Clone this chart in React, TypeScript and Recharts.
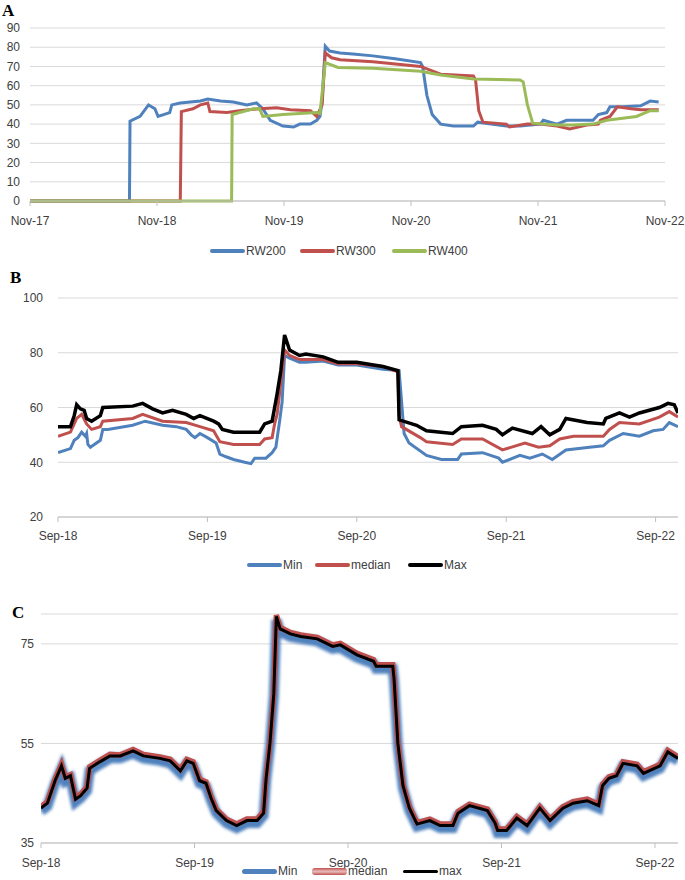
import React from 'react';
import { LineChart, Line, XAxis, YAxis, CartesianGrid, Legend } from 'recharts';

type Pt = [number, number];

const FONT = '"Liberation Sans", Arial, sans-serif';
const TICK = { fontSize: 12, fill: '#404040', fontFamily: FONT };
const GRID = '#D9D9D9';
const AXIS = '#BFBFBF';

// Panel A: x = months since Nov-17
const aTicks = [0, 12, 24, 36, 48, 60];
const aTickLabels = ['Nov-17', 'Nov-18', 'Nov-19', 'Nov-20', 'Nov-21', 'Nov-22'];
const aYTicks = [0, 10, 20, 30, 40, 50, 60, 70, 80, 90];
const aSeries = ['RW200', 'RW300', 'RW400'];

const rw200: Pt[] = [
  [0, 0], [9.4, 0], [9.45, 41.5], [10.4, 44], [11.2, 50], [11.8, 48], [12.1, 44], [13.2, 46], [13.4, 50],
  [14.2, 51], [16.1, 52], [16.8, 53], [18, 52], [19.2, 51.5], [20.5, 50], [21.4, 51], [22, 48], [22.7, 42],
  [23.9, 39], [24.9, 38.5], [25.5, 40], [26.5, 40], [27.1, 42], [27.4, 44], [27.6, 52], [27.7, 62],
  [27.9, 80.5], [28.3, 78], [29.3, 77], [30.5, 76.5], [32.4, 75.5], [34.5, 74], [36.9, 72], [37.1, 70],
  [37.5, 55], [38, 45], [38.8, 40], [40, 39], [41.9, 39], [42.3, 41], [45, 39], [46.3, 39], [48.2, 40],
  [48.5, 42], [49.8, 40], [50.7, 42], [52, 42], [53.2, 42], [53.7, 45], [54.5, 46], [54.8, 49], [56, 49],
  [57.7, 49.5], [58.6, 52], [59.4, 51.5],
];

const rw300: Pt[] = [
  [0, 0], [14.2, 0], [14.3, 46.5], [15.4, 48], [16.1, 50], [16.8, 51], [17, 46.5], [18.6, 46], [19.8, 47],
  [21.7, 48], [23.3, 48.5], [24.6, 47.5], [26.5, 47], [27.1, 44], [27.6, 50], [27.9, 77], [28.5, 74.5],
  [29.3, 73.5], [32.4, 72.5], [36.9, 70], [38.8, 66], [41.9, 65], [42.1, 63], [42.4, 47], [42.8, 41],
  [45, 40], [45.3, 38.5], [47, 40], [48.2, 40], [49.8, 39], [51, 37.5], [52.6, 39.5], [53.7, 40],
  [53.9, 42], [54.8, 44], [55.5, 49], [56.8, 48], [57.7, 47.5], [59.4, 47.5],
];

const rw400: Pt[] = [
  [0, 0], [19.05, 0], [19.1, 45], [21.1, 48], [21.7, 48], [22, 44], [23.9, 45], [25.5, 45.5], [27.1, 46],
  [27.4, 45.5], [27.9, 72], [29.1, 69.5], [32.4, 69], [36.9, 67.5], [38.8, 65.5], [41.9, 63.5], [46.3, 63],
  [46.6, 62], [47, 50], [47.5, 40.5], [49.8, 39.5], [51.3, 39.5], [53.2, 40], [54.5, 42], [56, 43],
  [57.3, 44], [58.6, 47], [59.4, 47],
];

// Panel B: x = months since Sep-18
const sepTicks = [0, 12, 24, 36, 48];
const sepTickLabels = ['Sep-18', 'Sep-19', 'Sep-20', 'Sep-21', 'Sep-22'];
const bYTicks = [20, 40, 60, 80, 100];
const bSeries = ['Min', 'median', 'Max'];

const bMin: Pt[] = [
  [0, 43.5], [1, 45], [1.3, 48], [1.6, 49], [1.9, 51], [2.2, 49.5], [2.3, 50.5], [2.4, 46.5], [2.6, 45.5],
  [3.4, 48], [3.6, 52], [4, 52], [6, 53.5], [7, 55], [8.4, 53.5], [9.5, 53], [10.3, 52], [10.7, 50], [11, 49],
  [11.4, 50.5], [12, 49], [12.7, 47], [13, 43], [13.5, 42], [14.1, 41], [15, 40], [15.5, 39.5], [15.8, 41.5],
  [16.7, 41.5], [17.2, 43.5], [17.5, 45.5], [17.8, 55], [18, 62], [18.2, 79], [18.6, 78], [19.4, 76.5],
  [19.9, 76.5], [21.3, 77], [22.5, 75.5], [24, 75.5], [26.1, 74], [27.4, 73.5], [27.8, 50.5], [28.2, 47],
  [29.6, 42.5], [30.8, 41], [32.1, 41], [32.4, 43], [34.1, 43.5], [35.4, 41.5], [35.7, 40], [37.1, 42.5],
  [37.9, 41.5], [38.9, 43], [39.7, 41], [40.8, 44.5], [42.7, 45.5], [43.8, 46], [44.3, 48], [45.4, 50.5],
  [46.7, 49.5], [47.8, 51.5], [48.6, 52], [49.1, 54.5], [49.8, 53],
];

const bMedian: Pt[] = [
  [0, 49.5], [1, 51], [1.5, 56], [1.9, 57.5], [2.3, 54], [2.7, 52], [3.4, 53], [3.6, 55], [6, 56], [6.8, 57.5],
  [8.4, 55], [10.3, 54.5], [11.4, 53], [12.5, 51.5], [13, 47.5], [14.1, 46.5], [16.2, 46.5], [16.6, 48.5],
  [17.2, 49], [17.4, 54], [17.6, 57.5], [18, 73], [18.2, 81], [18.6, 79], [19.4, 77.5], [21.3, 77.5],
  [22.5, 76], [24, 76], [26.1, 75], [27.3, 73], [27.4, 57], [27.6, 53], [29.1, 49], [29.6, 47.5], [31.7, 46.5],
  [32.4, 48.5], [34.1, 48.5], [35.7, 44.5], [37.5, 47], [38.6, 45.5], [39.5, 46], [40.3, 48.5], [41.4, 49.5],
  [43.8, 49.5], [44.3, 52], [45.1, 54.5], [46.7, 54], [48.3, 56.5], [49.1, 58.5], [49.8, 56.5],
];

const bMax: Pt[] = [
  [0, 53], [1, 53], [1.3, 57], [1.5, 61], [1.8, 59.5], [2.1, 59], [2.3, 56], [2.7, 55], [3.4, 57], [3.6, 60],
  [6, 60.5], [6.8, 61.5], [7.6, 59.5], [8.4, 58], [9.2, 59], [10.3, 57.5], [10.9, 56], [11.4, 57], [12.5, 55],
  [12.9, 54], [13.2, 52], [14.1, 51], [15.2, 51], [16.2, 51], [16.6, 54], [17.2, 55], [17.4, 60], [17.6, 65],
  [17.9, 73.5], [18.2, 86.5], [18.6, 81], [19.4, 79], [19.9, 79.5], [21.3, 78.5], [22.5, 76.5], [24, 76.5],
  [26.1, 75], [27.3, 73.5], [27.4, 55.5], [28.8, 53.5], [29.6, 51.5], [31.7, 50.5], [32.4, 53], [34.1, 53.5],
  [35.2, 52], [35.7, 50], [36.5, 52.5], [38.1, 50.5], [38.8, 53], [39.5, 50], [40.3, 52], [40.8, 56],
  [42.5, 54.5], [43.8, 54], [44, 56], [45.1, 58], [45.9, 56.5], [46.7, 58], [48.3, 60], [49, 61.5],
  [49.5, 61], [49.8, 58],
];

// Panel C: x = months since Sep-18, shared by the three series
const cYTicks = [35, 55, 75];
const cSeries = ['Min', 'median', 'max'];
const cMonths = [
  0, 0.5, 1.1, 1.6, 1.9, 2.3, 2.7, 3.1, 3.6, 3.8, 4.6, 5.4, 6.2, 7.2, 8, 9.3, 10.1, 10.9, 11.4, 11.9,
  12.4, 12.9, 13.3, 13.7, 14.5, 15.3, 16.1, 16.9, 17.4, 17.6, 17.9, 18.2, 18.4, 18.7, 19.5, 20.3, 21.6, 22.8, 23.4, 24.7,
  26, 26.2, 27.5, 27.6, 27.9, 28.3, 28.8, 29.4, 30.4, 31.2, 32.2, 32.6, 33.5, 34.9, 35.5, 35.7, 36.4, 37.2, 38, 39,
  39.8, 40.8, 41.6, 42.7, 43.6, 43.9, 44.4, 45, 45.5, 46.6, 47.1, 48.4, 49, 49.8,
];
const cMin = [
  41.4, 42.4, 47, 50, 47.4, 48, 43.2, 44, 45.5, 49.5, 50.8, 52, 52, 53, 52, 51.5, 51, 49, 51, 50.5,
  47, 46.4, 43.5, 41, 39, 38, 39, 39, 40.5, 47.5, 54.5, 64.5, 79.8, 77.4, 76.4, 76, 75.5, 74, 74.2, 72.2,
  71, 70, 70, 67.5, 54.5, 46, 41.5, 38.3, 39, 38, 38, 40.5, 42, 41, 38.5, 37, 37, 39.5, 38, 41.5,
  39, 41.5, 42.5, 43, 42, 46, 47.5, 48, 50.5, 50, 48.5, 50, 52.8, 51.5,
];
const cMedian = [
  42.3, 43.3, 47.8, 50.8, 48.3, 48.7, 44.1, 44.8, 46.3, 50.3, 51.6, 52.8, 52.7, 53.8, 52.8, 52.3, 51.8, 49.8, 51.8, 51.3,
  47.8, 47.3, 44.3, 41.8, 39.8, 38.8, 39.8, 39.8, 41.3, 48.2, 55.2, 65.3, 80.8, 78.3, 77.3, 76.8, 76.3, 74.8, 75.1, 73.1,
  71.8, 70.8, 70.8, 68.2, 55.3, 46.8, 42.3, 39.1, 39.8, 38.8, 38.8, 41.3, 42.8, 41.8, 39.3, 37.8, 37.8, 40.3, 38.8, 42.3,
  39.8, 42.3, 43.3, 43.8, 42.8, 46.8, 48.3, 48.8, 51.3, 50.8, 49.3, 50.8, 53.6, 52.3,
];
const cMax = [
  42, 43, 47.5, 50.5, 48, 48.5, 43.8, 44.5, 46, 50, 51.3, 52.5, 52.5, 53.5, 52.5, 52, 51.5, 49.5, 51.5, 51,
  47.5, 47, 44, 41.5, 39.5, 38.5, 39.5, 39.5, 41, 48, 55, 65, 80.5, 78, 77, 76.5, 76, 74.5, 74.8, 72.8,
  71.5, 70.5, 70.5, 68, 55, 46.5, 42, 38.8, 39.5, 38.5, 38.5, 41, 42.5, 41.5, 39, 37.5, 37.5, 40, 38.5, 42,
  39.5, 42, 43, 43.5, 42.5, 46.5, 48, 48.5, 51, 50.5, 49, 50.5, 53.3, 52,
];

const toRows = (pts: Pt[]) => pts.map(([m, v]) => ({ m, v }));
const cRows = (vals: number[]) => cMonths.map((m, i) => ({ m, v: vals[i] }));

// keep the legend in series order instead of recharts' alphabetical default
const byOrder = (names: string[]) => (item: any) => names.indexOf(item.value);

const makeLegend =
  (startX: number, widths: number[], swatch: Record<string, React.CSSProperties>) =>
  (props: any) => (
    <div
      style={{
        display: 'flex',
        alignItems: 'center',
        paddingLeft: startX,
        height: 18,
        fontFamily: FONT,
        fontSize: 12,
        color: '#404040',
      }}
    >
      {(props.payload || []).map((entry: any, i: number) => (
        <div key={entry.value} style={{ display: 'flex', alignItems: 'center', width: widths[i] }}>
          <span
            style={{
              display: 'inline-block',
              width: 35,
              height: 4,
              borderRadius: 2,
              background: entry.color,
              ...swatch[entry.value],
            }}
          />
          <span style={{ marginLeft: 1 }}>{entry.value}</span>
        </div>
      ))}
    </div>
  );

const panelLabel = (text: string, left: number, top: number) => (
  <div
    style={{
      position: 'absolute',
      left,
      top,
      fontFamily: '"Liberation Serif", "Times New Roman", serif',
      fontWeight: 'bold',
      fontSize: 17,
      lineHeight: 1,
    }}
  >
    {text}
  </div>
);

const App: React.FC = () => {
  return (
    <div style={{ position: 'absolute', left: 0, top: 0, width: 685, height: 880, background: '#fff' }}>
      {/* A */}
      <div style={{ position: 'absolute', left: 0, top: 0 }}>
        <LineChart width={685} height={260} margin={{ top: 28, right: 20, left: 0, bottom: 0 }}>
          <CartesianGrid vertical={false} stroke={GRID} />
          <XAxis
            type="number"
            dataKey="m"
            domain={[0, 60]}
            ticks={aTicks}
            interval={0}
            tickFormatter={(v) => aTickLabels[aTicks.indexOf(v)]}
            tick={TICK}
            tickSize={5}
            tickMargin={10}
            axisLine={{ stroke: AXIS }}
            tickLine={{ stroke: AXIS }}
            height={25}
            allowDataOverflow
          />
          <YAxis
            domain={[0, 90]}
            ticks={aYTicks}
            interval={0}
            width={30}
            tick={TICK}
            tickMargin={4}
            axisLine={false}
            tickLine={false}
          />
          <Legend
            content={makeLegend(210, [90, 92, 90], {})}
            itemSorter={byOrder(aSeries)}
            wrapperStyle={{ top: 242, bottom: 'auto', left: 0, width: 685, height: 34 }}
          />
          <Line data={toRows(rw200)} dataKey="v" name="RW200" type="linear" stroke="#4F81BD" strokeWidth={3} dot={false} isAnimationActive={false} />
          <Line data={toRows(rw300)} dataKey="v" name="RW300" type="linear" stroke="#C0504D" strokeWidth={3} dot={false} isAnimationActive={false} />
          <Line data={toRows(rw400)} dataKey="v" name="RW400" type="linear" stroke="#9BBB59" strokeWidth={3} dot={false} isAnimationActive={false} />
        </LineChart>
      </div>

      {/* B */}
      <div style={{ position: 'absolute', left: 0, top: 270 }}>
        <LineChart width={685} height={310} margin={{ top: 28, right: 7, left: 0, bottom: 0 }}>
          <CartesianGrid vertical={false} stroke={GRID} />
          <XAxis
            type="number"
            dataKey="m"
            domain={[0, 49.8]}
            ticks={sepTicks}
            interval={0}
            tickFormatter={(v) => sepTickLabels[sepTicks.indexOf(v)]}
            tick={TICK}
            tickSize={5}
            tickMargin={9}
            axisLine={{ stroke: AXIS }}
            tickLine={{ stroke: AXIS }}
            height={25}
            allowDataOverflow
          />
          <YAxis
            domain={[20, 100]}
            ticks={bYTicks}
            interval={0}
            width={58}
            tick={TICK}
            tickMargin={9}
            axisLine={false}
            tickLine={false}
          />
          <Legend
            content={makeLegend(247, [68, 93, 70], {})}
            itemSorter={byOrder(bSeries)}
            wrapperStyle={{ top: 286, bottom: 'auto', left: 0, width: 685, height: 38 }}
          />
          <Line data={toRows(bMin)} dataKey="v" name="Min" type="linear" stroke="#4F81BD" strokeWidth={3} dot={false} isAnimationActive={false} />
          <Line data={toRows(bMedian)} dataKey="v" name="median" type="linear" stroke="#C0504D" strokeWidth={3} dot={false} isAnimationActive={false} />
          <Line data={toRows(bMax)} dataKey="v" name="Max" type="linear" stroke="#000000" strokeWidth={3.5} dot={false} isAnimationActive={false} />
        </LineChart>
      </div>

      {/* C */}
      <div style={{ position: 'absolute', left: 0, top: 590 }}>
        <LineChart width={685} height={290} margin={{ top: 24, right: 7, left: 0, bottom: 0 }}>
          <defs>
            <filter id="cGlow" x="-5%" y="-10%" width="110%" height="120%">
              <feGaussianBlur in="SourceGraphic" stdDeviation="1.5" />
            </filter>
          </defs>
          <CartesianGrid vertical={false} stroke={GRID} />
          <XAxis
            type="number"
            dataKey="m"
            domain={[0, 49.8]}
            ticks={sepTicks}
            interval={0}
            tickFormatter={(v) => sepTickLabels[sepTicks.indexOf(v)]}
            tick={TICK}
            tickSize={5}
            tickMargin={10}
            axisLine={{ stroke: AXIS }}
            tickLine={{ stroke: AXIS }}
            height={25}
            allowDataOverflow
          />
          <YAxis
            domain={[35, 81]}
            ticks={cYTicks}
            interval={0}
            width={41}
            tick={TICK}
            tickMargin={1}
            axisLine={false}
            tickLine={false}
          />
          <Legend
            content={makeLegend(242, [70, 91, 70], {
              Min: { height: 5, borderRadius: 3 },
              median: {
                height: 7,
                borderRadius: 3,
                background: 'linear-gradient(#C0504D, #E6B4B3 45%, #E6B4B3 55%, #C0504D)',
              },
              max: { height: 3 },
            })}
            itemSorter={byOrder(cSeries)}
            wrapperStyle={{ top: 272, bottom: 'auto', left: 0, width: 685, height: 12 }}
          />
          <Line data={cRows(cMin)} dataKey="v" name="Min" type="linear" stroke="#4F81BD" strokeWidth={10} filter="url(#cGlow)" dot={false} isAnimationActive={false} />
          <Line data={cRows(cMedian)} dataKey="v" name="median" type="linear" stroke="#C0504D" strokeWidth={5.5} dot={false} isAnimationActive={false} />
          <Line data={cRows(cMax)} dataKey="v" name="max" type="linear" stroke="#000000" strokeWidth={3} dot={false} isAnimationActive={false} />
        </LineChart>
      </div>

      {panelLabel('A', 2, 2)}
      {panelLabel('B', 10, 269)}
      {panelLabel('C', 12, 604)}
    </div>
  );
};

export default App;
